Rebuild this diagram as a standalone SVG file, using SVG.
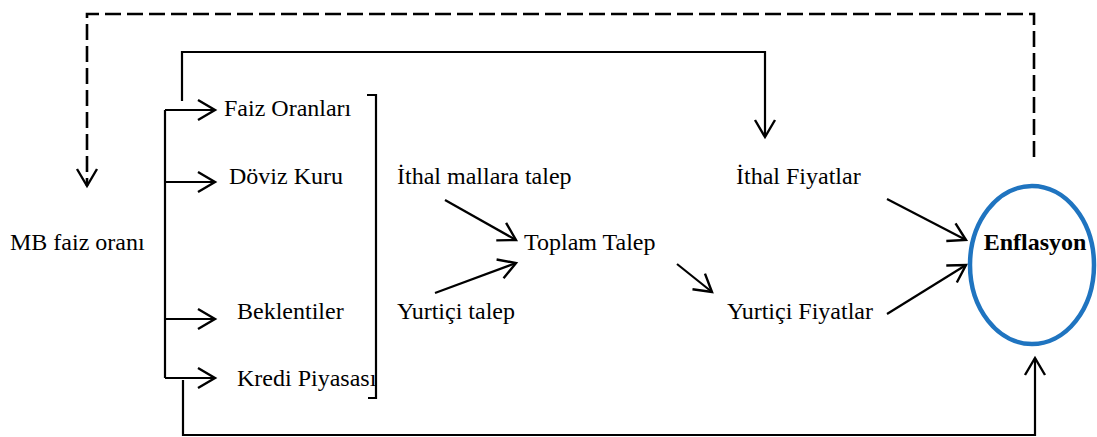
<svg xmlns="http://www.w3.org/2000/svg" width="1097" height="437" viewBox="0 0 1097 437">
  <defs>
    <marker id="chev" markerUnits="userSpaceOnUse" markerWidth="30" markerHeight="30" refX="19" refY="11" orient="auto" viewBox="0 0 30 22">
      <path d="M2,1 L19,11 L2,21" fill="none" stroke="#000" stroke-width="2.4"/>
    </marker>
  </defs>
  <style>
    .lbl { font-family: "Liberation Serif", "Times New Roman", serif; font-size: 24px; fill: #000; }
    .bold { font-weight: bold; }
    .ln { fill: none; stroke: #000; stroke-width: 2.2; }
    .dash { stroke-dasharray: 16 6; stroke-width: 2.6; }
    .arr { marker-end: url(#chev); }
  </style>
  <rect width="1097" height="437" fill="#fff"/>

  <g id="connectors">
    <!-- feedback loop (dashed) -->
    <path class="ln dash arr" d="M1034,157 L1034,14 L87,14 L87,186"/>
    <!-- direct channel to import prices -->
    <path class="ln arr" d="M182,101 L182,52 L765,52 L765,137"/>
    <!-- fan-out from policy rate -->
    <path class="ln" d="M165,110 L165,378"/>
    <path class="ln arr" d="M165,110 L215,110"/>
    <path class="ln arr" d="M165,182 L215,182"/>
    <path class="ln arr" d="M165,319 L215,319"/>
    <path class="ln arr" d="M165,378 L215,378"/>
    <!-- bracket -->
    <path class="ln" d="M367,95 L376,95 L376,398 L368,398"/>
    <!-- credit channel to inflation -->
    <path class="ln arr" d="M183,380 L183,435 L1035,435 L1035,358"/>
    <!-- demand arrows -->
    <path class="ln arr" d="M445,200 L516,240"/>
    <path class="ln arr" d="M435,293 L516,263"/>
    <path class="ln arr" d="M677,264 L712,292"/>
    <!-- prices into inflation -->
    <path class="ln arr" d="M887,199 L966,240"/>
    <path class="ln arr" d="M887,314 L966,265"/>
  </g>

  <g id="mb-faiz"><text class="lbl" x="10" y="250">MB faiz oranı</text></g>
  <g id="faiz-oranlari"><text class="lbl" x="224" y="116">Faiz Oranları</text></g>
  <g id="doviz-kuru"><text class="lbl" x="229" y="184">Döviz Kuru</text></g>
  <g id="beklentiler"><text class="lbl" x="237" y="319">Beklentiler</text></g>
  <g id="kredi-piyasasi"><text class="lbl" x="237" y="386">Kredi Piyasası</text></g>
  <g id="ithal-talep"><text class="lbl" x="397" y="184">İthal mallara talep</text></g>
  <g id="yurtici-talep"><text class="lbl" x="397" y="319">Yurtiçi talep</text></g>
  <g id="toplam-talep"><text class="lbl" x="524" y="250">Toplam Talep</text></g>
  <g id="ithal-fiyatlar"><text class="lbl" x="736" y="184">İthal Fiyatlar</text></g>
  <g id="yurtici-fiyatlar"><text class="lbl" x="727" y="319">Yurtiçi Fiyatlar</text></g>
  <g id="enflasyon">
    <ellipse cx="1032" cy="265" rx="62" ry="79" fill="none" stroke="#1f74c0" stroke-width="4.5"/>
    <text class="lbl bold" x="1035" y="250" text-anchor="middle">Enflasyon</text>
  </g>
</svg>
